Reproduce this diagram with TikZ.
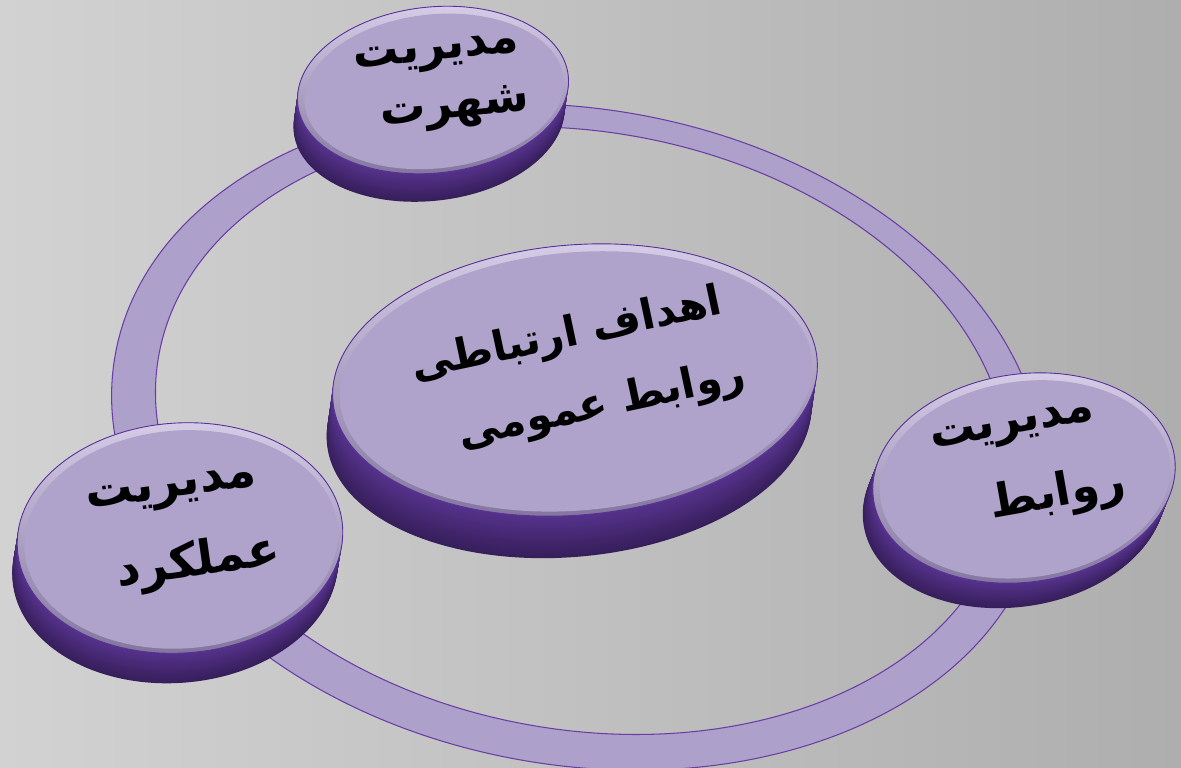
\documentclass[tikz,border=0pt]{standalone}
\usepackage{fontspec}
\usepackage{tikz}
\TeXXeTstate=1
\newfontfamily\farsi[Script=Arabic]{DejaVu Sans}

\definecolor{bgleft}{HTML}{D2D2D2}
\definecolor{bgright}{HTML}{AEAEAE}
\definecolor{ringcol}{HTML}{ADA1CB}
\definecolor{ringedge}{HTML}{6A3DA5}
\definecolor{facecol}{HTML}{AFA3CC}
\definecolor{rimlight}{HTML}{D4CCE6}
\definecolor{rimdark}{HTML}{80749C}
\definecolor{edgecol}{HTML}{5B2F99}
\definecolor{sidemid}{HTML}{56338C}
\definecolor{sidedark}{HTML}{2A1648}

% coin: centre x, centre y, radius a, radius b, tilt, depth x, depth y
\newcommand{\coin}[7]{%
  % side
  \foreach \k in {24,...,0} {
    \pgfmathtruncatemacro{\p}{100-3*\k}
    \fill[sidemid!\p!sidedark, shift={(#6*\k/24,#7*\k/24)}, rotate around={#5:(#1,#2)}]
      (#1,#2) ellipse ({#3} and {#4});
  }
  % top face with its rim
  \shade[top color=rimlight, bottom color=rimdark, rotate around={#5:(#1,#2)}]
    (#1,#2) ellipse ({#3} and {#4});
  \fill[facecol, rotate around={#5:(#1,#2)}] (#1+1,#2+1.5) ellipse ({#3-6} and {#4-6});
  \draw[edgecol, line width=0.5pt, rotate around={#5:(#1,#2)}] (#1,#2) ellipse ({#3} and {#4});
}

\begin{document}
\begin{tikzpicture}[x=0.02cm, y=-0.02cm,
    lbl/.style={font=\farsi\bfseries\fontsize{26}{30}\selectfont, text=black, inner sep=0pt},
    biglbl/.style={lbl, font=\farsi\bfseries\fontsize{24}{28}\selectfont}]

    % --- background ---
    \useasboundingbox (0,0) rectangle (1181,768);
    \shade[left color=bgleft, right color=bgright] (0,0) rectangle (1181,768);

    % --- ring ---
    \fill[ringcol, even odd rule, rotate around={-10:(578,437)}]
        (578,437) ellipse (470 and 328) (581,430) ellipse (430 and 299);
    \draw[ringedge, line width=0.6pt, rotate around={-10:(578,437)}] (578,437) ellipse (470 and 328);
    \draw[ringedge, line width=0.6pt, rotate around={-10:(578,437)}] (581,430) ellipse (430 and 299);

    % --- coins ---
    \coin{575}{380}{243}{135}{5}{-6}{42}
    \coin{433}{90}{136}{83}{6}{-4}{28}
    \coin{1024}{478}{152}{104}{8}{-10}{25}
    \coin{180}{538}{163}{115}{4}{-5}{30}

    % --- labels ---
    \node[biglbl, rotate=12] (goalA) at (567,336) {\beginR اهداف ارتباطی\endR};
    \node[biglbl, rotate=12] (goalB) at (602,406) {\beginR روابط عمومی\endR};

    \node[lbl, rotate=6] (fameA) at (437,56) {\beginR مدیریت\endR};
    \node[lbl, rotate=6] (fameB) at (455,110) {\beginR شهرت\endR};

    \node[lbl, rotate=10] (relA) at (1013,430) {\beginR مدیریت\endR};
    \node[lbl, rotate=10] (relB) at (1058,495) {\beginR روابط\endR};

    \node[lbl, rotate=8, font=\farsi\bfseries\fontsize{27}{31}\selectfont] (perfA) at (172,493) {\beginR مدیریت\endR};
    \node[lbl, rotate=8, font=\farsi\bfseries\fontsize{27}{31}\selectfont] (perfB) at (198,563) {\beginR عملکرد\endR};
\end{tikzpicture}
\end{document}
